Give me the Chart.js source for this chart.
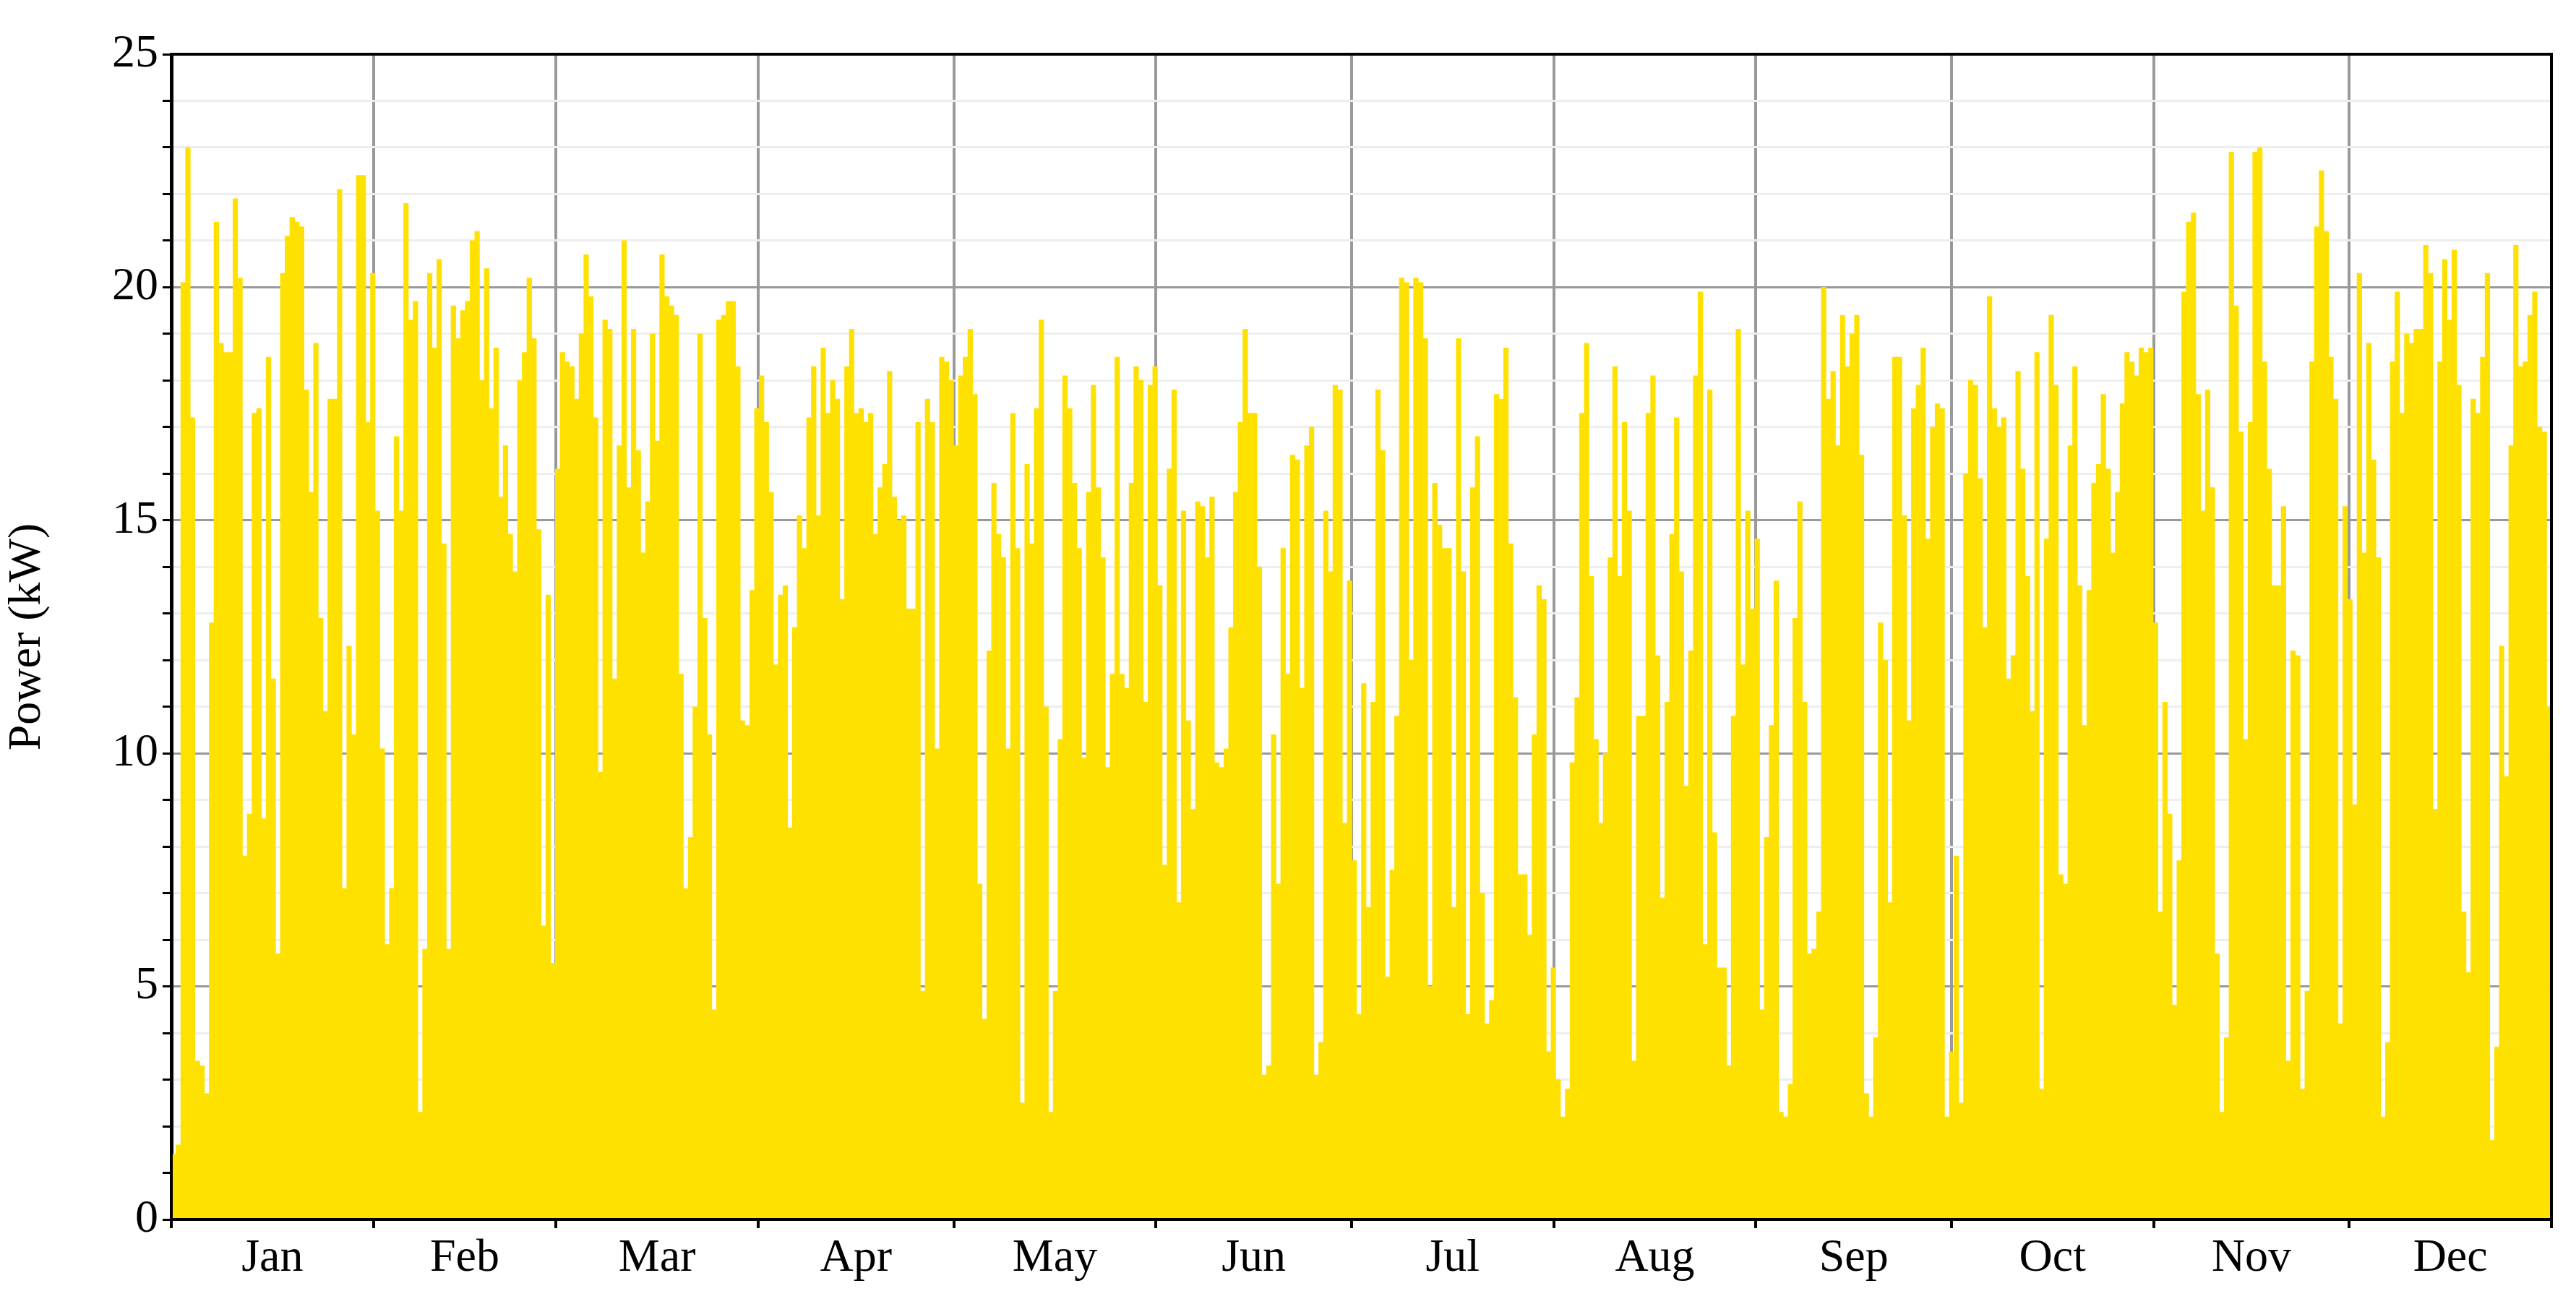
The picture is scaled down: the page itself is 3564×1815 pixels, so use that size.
<!DOCTYPE html>
<html><head><meta charset="utf-8">
<script src="https://cdn.jsdelivr.net/npm/chart.js@4.4.1/dist/chart.umd.min.js"></script>
<style>html,body{margin:0;padding:0;background:#fff}#wrap{width:3564px;height:1815px}</style>
</head><body><div id="wrap"><canvas id="c"></canvas></div>
<script>
const months = ["Jan","Feb","Mar","Apr","May","Jun","Jul","Aug","Sep","Oct","Nov","Dec"];
const monthDays = [31,28,31,30,31,30,31,31,30,31,30,31];
const yTickLabels = [0,5,10,15,20,25];
const powerJanFeb = [1.4,1.6,20.1,23.0,17.2,3.4,3.3,2.7,12.8,21.4,18.8,18.6,18.6,21.9,20.2,7.8,8.7,17.3,17.4,8.6,18.5,11.6,5.7,20.3,21.1,21.5,21.4,21.3,17.8,15.6,18.8,12.9,10.9,17.6,17.6,22.1,7.1,12.3,10.4,22.4,22.4,17.1,20.3,15.2,10.1,5.9,7.1,16.8,15.2,21.8,19.3,19.7,2.3,5.8,20.3,18.7,20.6,14.5,5.8,19.6,18.9,19.5,19.7,21.0,21.2,18.0,20.4,17.4,18.7,15.5,16.6,14.7,13.9,18.0,18.6,20.2,18.9,14.8,6.3,13.4];
const powerMarApr = [5.5,16.1,18.6,18.4,18.3,17.6,19.0,20.7,19.8,17.2,9.6,19.3,19.1,11.6,16.6,21.0,15.7,19.1,16.5,14.3,15.4,19.0,16.7,20.7,19.8,19.6,19.4,11.7,7.1,8.2,11.0,19.0,12.9,10.4,4.5,19.3,19.4,19.7,19.7,18.3,10.7,10.6,13.5,17.4,18.1,17.1,15.6,11.9,13.4,13.6,8.4,12.7,15.1,14.4,17.2,18.3,15.1,18.7,17.3,18.0,17.6,13.3,18.3,19.1,17.3,17.4,17.1,17.3,14.7,15.7,16.2,18.2,15.5,15.0,15.1,13.1,13.1,17.1,4.9,17.6,17.1,10.1,18.5,18.4,18.0];
const powerMayJun = [16.6,18.1,18.5,19.1,17.7,7.2,4.3,12.2,15.8,14.7,14.2,10.1,17.3,14.4,2.5,16.2,14.5,17.4,19.3,11.0,2.3,4.9,10.3,18.1,17.4,15.8,14.4,9.9,15.6,17.9,15.7,14.2,9.7,11.7,18.5,11.7,11.4,15.8,18.3,18.0,11.1,17.9,18.3,13.6,7.6,16.1,17.8,6.8,15.2,10.7,8.8,15.4,15.3,14.2,15.5,9.8,9.7,10.1,12.7,15.6,17.1,19.1,17.3,17.3,14.0,3.1,3.3,10.4,7.2,14.4,11.7,16.4,16.3,11.4,16.6,17.0,3.1,3.8,15.2,13.9,17.9,17.8,8.5,13.7,7.7];
const powerJulAug = [4.4,11.5,6.7,11.1,17.8,16.5,5.2,7.5,10.8,20.2,20.1,12.0,20.2,20.1,18.9,5.0,15.8,14.9,14.4,14.4,6.7,18.9,13.9,4.4,15.7,16.8,7.0,4.2,4.7,17.7,17.6,18.7,14.5,11.2,7.4,7.4,6.1,10.4,13.6,13.3,3.6,5.4,3.0,2.2,2.8,9.8,11.2,17.3,18.8,13.8,10.3,8.5,10.0,14.2,18.3,13.8,17.1,15.2,3.4,10.8,10.8,17.3,18.1,12.1,6.9,11.1,14.7,17.2,13.9,9.3,12.2,18.1,19.9,5.9,17.8,8.3,5.4,5.4,3.3,10.8,19.1,11.9,15.2,13.1,14.6,4.5,8.2,10.6];
const powerSepOct = [13.7,2.3,2.2,2.9,12.9,15.4,11.1,5.7,5.8,6.6,20.0,17.6,18.2,16.6,19.4,18.3,19.0,19.4,16.4,2.7,2.2,3.9,12.8,12.0,6.8,18.5,18.5,15.1,10.7,17.4,17.9,18.7,14.6,17.0,17.5,17.4,2.2,3.6,7.8,2.5,16.0,18.0,17.9,15.9,12.7,19.8,17.4,17.0,17.2,11.6,12.1,18.2,16.1,13.8,10.9,18.6,2.8,14.6,19.4,17.9,7.4,7.2,16.6,18.3,13.6,10.6,13.5,15.8,16.2,17.7,16.1,14.3,15.6,17.5,18.6,18.4,18.1,18.7,18.6,18.7,12.8,6.6,11.1,8.7,4.6,7.7];
const powerNovDec = [19.9,21.4,21.6,17.7,15.2,17.8,15.7,5.7,2.3,3.9,22.9,19.6,16.9,10.3,17.1,22.9,23.0,18.4,16.1,13.6,13.6,15.3,3.4,12.2,12.1,2.8,4.9,18.4,21.3,22.5,21.2,18.5,17.6,4.2,15.3,13.3,8.9,20.3,14.3,18.8,16.3,14.2,2.2,3.8,18.4,19.9,17.3,19.0,18.8,19.1,19.1,20.9,20.3,8.8,18.4,20.6,19.3,20.8,17.9,6.6,5.3,17.6,17.3,18.5,20.3,1.7,3.7,12.3,9.5,16.6,20.9,18.3,18.4,19.4,19.9,17.0,16.9,11.0];

const power = [].concat(powerJanFeb, powerMarApr, powerMayJun, powerJulAug, powerSepOct, powerNovDec);
const points = power.map((v,i)=>({x:i, y:v}));

const boundaries = [];
const mids = [];
let acc = 0;
monthDays.forEach(d=>{ boundaries.push(acc); mids.push(acc + d/2); acc += d; });
boundaries.push(acc);
const totalDays = acc;
const isMid = v => mids.some(m=>Math.abs(m-v)<1e-6);

const FONT = "'Liberation Serif', 'DejaVu Serif', serif";

const boxPlugin = {
  id:'box',
  afterDraw(chart){
    const a = chart.chartArea, c = chart.ctx;
    c.save(); c.strokeStyle='#000'; c.lineWidth=4;
    c.strokeRect(a.left, a.top, a.right-a.left, a.bottom-a.top);
    c.restore();
  }
};

new Chart(document.getElementById('c'), {
  type:'bar',
  data:{ datasets:[{ data: points, xAxisID:'xi', yAxisID:'y', backgroundColor:'#FFE100', borderWidth:0, barPercentage:1.0, categoryPercentage:1.0, grouped:false }]},
  options:{
    responsive:true, maintainAspectRatio:false, animation:false,
    devicePixelRatio:1,
    layout:{ padding:{ top:75, right:34, left:0, bottom:0 } },
    plugins:{ legend:{display:false}, tooltip:{enabled:false} },
    scales:{
      xi:{ type:'linear', display:false, min:-0.5, max:power.length-0.5, offset:false },
      xm:{ type:'linear', position:'bottom', min:0, max:totalDays, offset:false,
        afterBuildTicks(ax){ ax.ticks = boundaries.concat(mids).sort((a,b)=>a-b).map(v=>({value:v})); },
        afterFit(ax){ ax.height = 128; },
        border:{ display:true, color:'#000', width:4 },
        grid:{ offset:false, drawOnChartArea:true, drawTicks:true, tickLength:12,
          color: ctx => (ctx.tick && !isMid(ctx.tick.value) && ctx.tick.value>0 && ctx.tick.value<totalDays) ? '#999999' : 'rgba(0,0,0,0)',
          tickColor: ctx => (ctx.tick && !isMid(ctx.tick.value)) ? '#000' : 'rgba(0,0,0,0)',
          lineWidth:4, tickWidth:4 },
        ticks:{ autoSkip:false, maxRotation:0, padding:4, color:'#000', font:{family:FONT, size:64},
          callback:(v)=>{ const k = mids.findIndex(m=>Math.abs(m-v)<1e-6); return k>=0 ? months[k] : ''; } }
      },
      y:{ min:0, max:25, position:'left',
        afterBuildTicks(ax){ const t=[]; for(let v=0; v<=25; v++) t.push({value:v}); ax.ticks=t; },
        afterFit(ax){ ax.width = 237; },
        border:{ display:true, color:'#000', width:5 },
        grid:{ drawTicks:true, tickLength:12, tickColor:'#000', tickWidth:3,
          color: ctx => (ctx.tick && ctx.tick.value%5===0) ? '#999999' : '#eeeeee',
          lineWidth: 3 },
        ticks:{ autoSkip:false, padding:6, color:'#000', font:{family:FONT, size:64},
          callback:(v)=> yTickLabels.includes(v) ? String(v) : '' },
        title:{ display:true, text:'Power (kW)', color:'#000', font:{family:FONT, size:64}, padding:{top:0,bottom:10} }
      }
    }
  },
  plugins:[boxPlugin]
});
</script></body></html>
